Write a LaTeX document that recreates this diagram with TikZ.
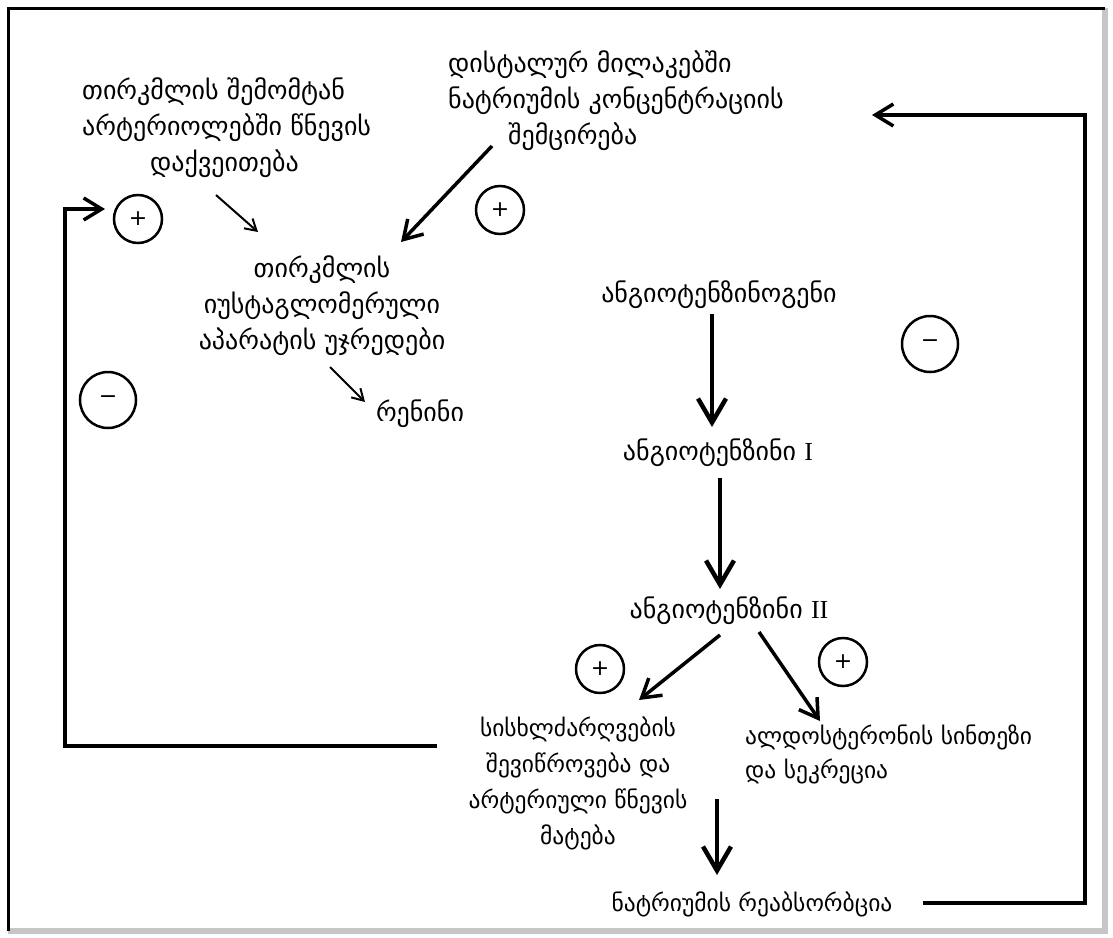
\documentclass[tikz,border=0pt]{standalone}
\usepackage{fontspec}
\newfontfamily\geo{DejaVu Sans}
\newfontfamily\rmn{Liberation Serif}
\usetikzlibrary{arrows.meta}
\begin{document}
\begin{tikzpicture}[x=1pt,y=-1pt,
  txt/.style={inner sep=0pt,font=\fontsize{26pt}{36pt}\geo},
  txtb/.style={inner sep=0pt,font=\fontsize{23.5pt}{36pt}\geo},
  pc/.style={circle,draw,line width=2.5pt,minimum size=48pt,inner sep=0pt,font=\fontsize{22pt}{22pt}\geo},
  mc/.style={pc,minimum size=56pt},
  bigarrow/.style={line width=4.5pt,-{Straight Barb[length=24pt,width=28pt]}},
  midarrow/.style={line width=3.5pt,-{Straight Barb[length=18pt,width=22pt]}},
  thinarrow/.style={line width=2pt,-{Straight Barb[length=11pt,width=13pt]}},
  fb/.style={line width=3.5pt,-{Straight Barb[length=18pt,width=22pt]}}
]
\useasboundingbox (0,0) rectangle (1113,937);
\fill[white] (0,0) rectangle (1113,937);
% frame
\draw[gray!45,line width=6pt] (8,931) -- (1105,931) -- (1105,8);
\draw[black,line width=3pt] (1105,8) -- (8,8) -- (8,931);

% text nodes
\node[txt,anchor=west,align=left] (renal) at (82,128) {თირკმლის შემომტან\\არტერიოლებში  წნევის\\\hspace*{68pt}დაქვეითება};
\node[txt,anchor=west,align=left] (distal) at (448,101) {დისტალურ მილაკებში\\ნატრიუმის კონცენტრაციის\\\hspace*{60pt}შემცირება};
\node[txt,align=center] (jga) at (322,306) {თირკმლის\\იუსტაგლომერული\\აპარატის უჯრედები};
\node[txt] (renin) at (420,414) {რენინი};
\node[txt] (agen) at (719,295) {ანგიოტენზინოგენი};
\node[txt] (a1) at (718,453) {ანგიოტენზინი {\rmn I}};
\node[txt] (a2) at (729,611) {ანგიოტენზინი {\rmn II}};
\node[txtb,align=center] (vaso) at (578,783) {სისხლძარღვების\\შევიწროვება და\\არტერიული წნევის\\მატება};
\node[txtb,anchor=west,align=left,font=\fontsize{23.5pt}{34pt}\geo] (aldo) at (745,754) {ალდოსტერონის სინთეზი\\და სეკრეცია};
\node[txtb] (nare) at (752,904) {ნატრიუმის რეაბსორბცია};

% sign circles
\node[pc] (p1) at (138,219) {+};
\node[pc] (p2) at (500,210) {+};
\node[mc] (m1) at (108,400) {−};
\node[mc] (m2) at (930,344) {−};
\node[pc] (p3) at (600,669) {+};
\node[pc] (p4) at (843,662) {+};

% connector end points
\coordinate (r1) at (216,195);  \coordinate (r2) at (258,232);
\coordinate (d1) at (492,146);  \coordinate (d2) at (401,242);
\coordinate (j1) at (330,367);  \coordinate (j2) at (365,402);
\coordinate (g1) at (712,314);  \coordinate (g2) at (712,427);
\coordinate (i1) at (720,478);  \coordinate (i2) at (720,589);
\coordinate (v1) at (720,635);  \coordinate (v2) at (639,700);
\coordinate (l1) at (759,632);  \coordinate (l2) at (820,721);
\coordinate (n1) at (717,799);  \coordinate (n2) at (717,875);
\coordinate (fr1) at (923,903); \coordinate (fr2) at (1085,903);
\coordinate (fr3) at (1085,115); \coordinate (fr4) at (872,115);
\coordinate (fl1) at (437,746); \coordinate (fl2) at (65,746);
\coordinate (fl3) at (65,209);  \coordinate (fl4) at (105,209);

\draw[thinarrow] (r1) -- (r2);
\draw[midarrow] (d1) -- (d2);
\draw[thinarrow] (j1) -- (j2);
\draw[bigarrow] (g1) -- (g2);
\draw[bigarrow] (i1) -- (i2);
\draw[midarrow] (v1) -- (v2);
\draw[midarrow] (l1) -- (l2);
\draw[bigarrow] (n1) -- (n2);
\draw[fb] (fr1) -- (fr2) -- (fr3) -- (fr4);
\draw[fb] (fl1) -- (fl2) -- (fl3) -- (fl4);
\end{tikzpicture}
\end{document}
